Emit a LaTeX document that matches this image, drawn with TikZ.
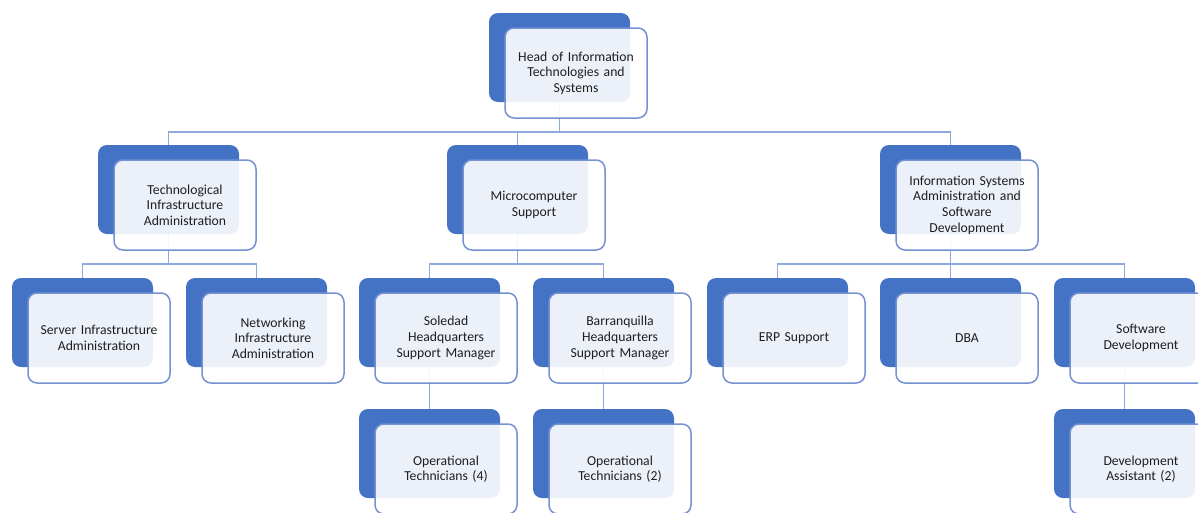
\documentclass[tikz,border=0pt]{standalone}
\usepackage{fontspec}
\setmainfont{Carlito}
\definecolor{dkblue}{HTML}{4472C4}
\definecolor{lnblue}{HTML}{8EA9DB}
\definecolor{bdblue}{HTML}{7491D2}
\definecolor{txtc}{HTML}{1E1E1E}
\begin{document}
\begin{tikzpicture}[x=1pt,y=-1pt,
  darkbox/.style={fill=dkblue, draw=none, rounded corners=9pt, minimum width=141pt, minimum height=89pt, inner sep=0pt},
  lightbox/.style={fill=white, fill opacity=0.9, text opacity=1, draw=bdblue, draw opacity=1, line width=1.5pt, rounded corners=9pt, minimum width=142pt, minimum height=90pt, align=center, text width=132pt, inner sep=0pt, font=\fontsize{13.7}{15.6}\selectfont, text=txtc},
  conn/.style={draw=lnblue, line width=1.6pt}]
\useasboundingbox (0,0) rectangle (1198,512);
\clip (0,0) rectangle (1198,512);
% dark back boxes
\node[darkbox] (top) at (559.5,57.5) {};
\node[darkbox] (tech) at (168.5,189.5) {};
\node[darkbox] (micro) at (517.5,189.5) {};
\node[darkbox] (info) at (950.5,189.5) {};
\node[darkbox] (sia) at (82.5,322.5) {};
\node[darkbox] (nia) at (256.5,322.5) {};
\node[darkbox] (sol) at (429.5,322.5) {};
\node[darkbox] (baq) at (603.5,322.5) {};
\node[darkbox] (erp) at (777.5,322.5) {};
\node[darkbox] (dba) at (950.5,322.5) {};
\node[darkbox] (soft) at (1124.5,322.5) {};
\node[darkbox] (ot4) at (429.5,453.5) {};
\node[darkbox] (ot2) at (603.5,453.5) {};
\node[darkbox] (dev) at (1124.5,453.5) {};
% connectors
\coordinate (bus1) at (559.5,132);
\draw[conn] (top.south) -- (bus1);
\draw[conn] (tech.north) |- (bus1);
\draw[conn] (micro.north) |- (bus1);
\draw[conn] (info.north) |- (bus1);
\coordinate (bus2a) at (168.5,264);
\draw[conn] (tech.south) -- (bus2a);
\draw[conn] (sia.north) |- (bus2a);
\draw[conn] (nia.north) |- (bus2a);
\coordinate (bus2b) at (517.5,264);
\draw[conn] (micro.south) -- (bus2b);
\draw[conn] (sol.north) |- (bus2b);
\draw[conn] (baq.north) |- (bus2b);
\coordinate (bus2c) at (950.5,264);
\draw[conn] (info.south) -- (bus2c);
\draw[conn] (erp.north) |- (bus2c);
\draw[conn] (dba.north) -- (bus2c);
\draw[conn] (soft.north) |- (bus2c);
\draw[conn] (sol.south) -- (ot4.north);
\draw[conn] (baq.south) -- (ot2.north);
\draw[conn] (soft.south) -- (dev.north);
% light front boxes
\node[lightbox] (top-l) at (576,73) {Head of Information\\Technologies and\\Systems};
\node[lightbox] (tech-l) at (185,205) {Technological\\Infrastructure\\Administration};
\node[lightbox] (micro-l) at (534,205) {Microcomputer\\Support};
\node[lightbox] (info-l) at (967,205) {Information Systems\\Administration and\\Software\\Development};
\node[lightbox] (sia-l) at (99,338) {Server Infrastructure\\Administration};
\node[lightbox] (nia-l) at (273,338) {Networking\\Infrastructure\\Administration};
\node[lightbox] (sol-l) at (446,338) {Soledad\\Headquarters\\Support Manager};
\node[lightbox] (baq-l) at (620,338) {Barranquilla\\Headquarters\\Support Manager};
\node[lightbox] (erp-l) at (794,338) {ERP Support};
\node[lightbox] (dba-l) at (967,338) {DBA};
\node[lightbox] (soft-l) at (1141,338) {Software\\Development};
\node[lightbox] (ot4-l) at (446,469) {Operational\\Technicians (4)};
\node[lightbox] (ot2-l) at (620,469) {Operational\\Technicians (2)};
\node[lightbox] (dev-l) at (1141,469) {Development\\Assistant (2)};
\end{tikzpicture}
\end{document}
